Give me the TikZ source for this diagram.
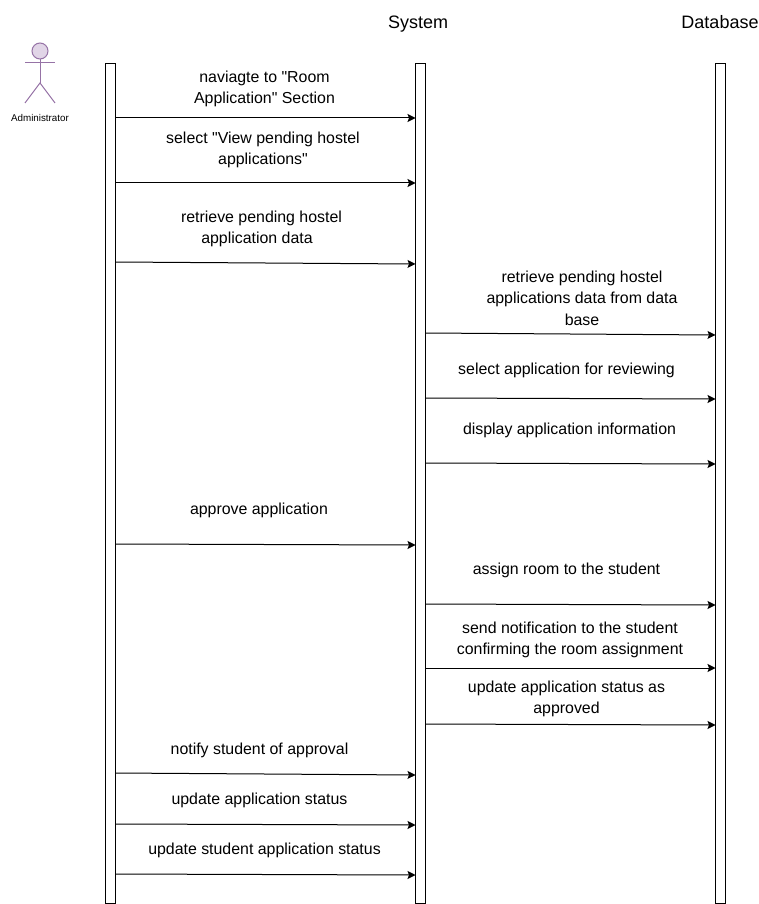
\documentclass[tikz,border=0pt]{standalone}
\usepackage{fontspec}
\newfontfamily\labelfont{Liberation Sans}
\usetikzlibrary{arrows.meta}

\tikzset{
  lifebar/.style={rectangle,draw=black,fill=white,line width=1pt,inner sep=0pt,minimum width=10pt,minimum height=839pt},
  msg/.style={-{Stealth[length=8pt,width=8pt,inset=1.5pt]},line width=1pt,black},
  msgtext/.style={align=center,inner sep=0pt,font=\labelfont\fontsize{15.9}{21.5}\selectfont},
  headtext/.style={inner sep=0pt,anchor=base,font=\labelfont\fontsize{18}{21}\selectfont},
  actorline/.style={draw=actorcolor,line width=1pt}
}
\definecolor{actorcolor}{HTML}{9673A6}
\definecolor{actorfill}{HTML}{E1D5E7}

\begin{document}
\begin{tikzpicture}[x=1pt,y=-1pt]
  \useasboundingbox (0,0) rectangle (759,904);

  % lifelines
  \node[lifebar] (admin) at (110.5,483.5) {};
  \node[lifebar] (system) at (420.5,483.5) {};
  \node[lifebar] (database) at (720.5,483.5) {};
  \node[headtext] (systemlabel) at (418,29) {System};
  \node[headtext] (databaselabel) at (720,29) {Database};

  % actor
  \node[circle,actorline,fill=actorfill,inner sep=0pt,minimum size=16pt] (head) at (40,51) {};
  \coordinate (armleft) at (25,63);
  \coordinate (armright) at (55,63);
  \coordinate (hip) at (40,83);
  \coordinate (footleft) at (25,103);
  \coordinate (footright) at (55,103);
  \draw[actorline] (head.south) -- (hip);
  \draw[actorline] (armleft) -- (armright);
  \draw[actorline] (footleft) -- (hip) -- (footright);
  \node[inner sep=0pt,font=\labelfont\fontsize{9.8}{11}\selectfont] (adminlabel) at (40,118) {Administrator};

  % messages
  \coordinate (m1a) at (115.5,118);
  \coordinate (m1b) at (415.5,118);
  \draw[msg] (m1a) -- (m1b);
  \node[msgtext] (t1) at (264.5,89) {naviagte to "Room\\Application" Section};

  \coordinate (m2a) at (115.5,183);
  \coordinate (m2b) at (415.5,183);
  \draw[msg] (m2a) -- (m2b);
  \node[msgtext] (t2) at (263,150) {select "View pending hostel\\applications"};

  \coordinate (m3a) at (115.5,262);
  \coordinate (m3b) at (415.5,264);
  \draw[msg] (m3a) -- (m3b);
  \node[msgtext] (t3) at (261.5,229) {retrieve pending hostel\\application data\hspace*{9pt}};

  \coordinate (m4a) at (425.5,333);
  \coordinate (m4b) at (715.5,335);
  \draw[msg] (m4a) -- (m4b);
  \node[msgtext] (t4) at (582,298) {retrieve pending hostel\\applications data from data\\base};

  \coordinate (m5a) at (425.5,398);
  \coordinate (m5b) at (715.5,399);
  \draw[msg] (m5a) -- (m5b);
  \node[msgtext] (t5) at (566.5,370) {select application for reviewing};

  \coordinate (m6a) at (425.5,463);
  \coordinate (m6b) at (715.5,464);
  \draw[msg] (m6a) -- (m6b);
  \node[msgtext] (t6) at (569.5,430) {display application information};

  \coordinate (m7a) at (115.5,544);
  \coordinate (m7b) at (415.5,545);
  \draw[msg] (m7a) -- (m7b);
  \node[msgtext] (t7) at (259,510) {approve application};

  \coordinate (m8a) at (425.5,604);
  \coordinate (m8b) at (715.5,605);
  \draw[msg] (m8a) -- (m8b);
  \node[msgtext] (t8) at (566.5,570) {assign room to the student};

  \coordinate (m9a) at (425.5,668);
  \coordinate (m9b) at (715.5,668);
  \draw[msg] (m9a) -- (m9b);
  \node[msgtext] (t9) at (570,640) {send notification to the student\\confirming the room assignment};

  \coordinate (m10a) at (425.5,724);
  \coordinate (m10b) at (715.5,725);
  \draw[msg] (m10a) -- (m10b);
  \node[msgtext] (t10) at (566.5,699) {update application status as\\approved};

  \coordinate (m11a) at (115.5,773);
  \coordinate (m11b) at (415.5,775);
  \draw[msg] (m11a) -- (m11b);
  \node[msgtext] (t11) at (259.5,750) {notify student of approval};

  \coordinate (m12a) at (115.5,824);
  \coordinate (m12b) at (415.5,825);
  \draw[msg] (m12a) -- (m12b);
  \node[msgtext] (t12) at (259.5,800) {update application status};

  \coordinate (m13a) at (115.5,874);
  \coordinate (m13b) at (415.5,875);
  \draw[msg] (m13a) -- (m13b);
  \node[msgtext] (t13) at (264.5,850) {update student application status};
\end{tikzpicture}
\end{document}
